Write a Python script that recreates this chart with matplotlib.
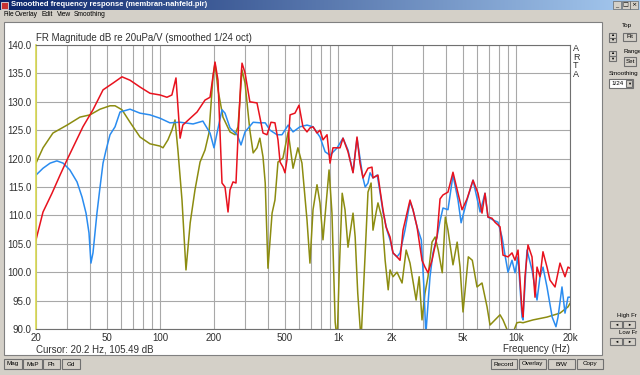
import numpy as np
import matplotlib
matplotlib.use('Agg')
import matplotlib.pyplot as plt
from matplotlib.patches import Rectangle

# --- data (Hz, dB) ---
red_f = [20, 21.9, 24.6, 27.3, 29.9, 36.7, 41.8, 47.6, 54.2, 60.8, 67.5, 76.8, 87.4, 99.6,
         108.8, 116, 122.3, 129, 133.6, 147, 160.6, 178, 190, 202.6, 210.6, 221.8, 230.6,
         239.8, 246, 255.8, 265.8, 272.8, 283.6, 287.4, 298.8, 318, 348.8, 362, 377, 397,
         418, 440, 457.6, 470, 488, 501, 514, 535, 570, 600.6, 632, 666, 692, 720, 758, 788,
         819, 863, 897, 932, 969, 1021, 1061, 1132, 1208, 1272, 1322, 1374, 1466, 1544,
         1564, 1668, 1713, 1780, 1850, 1950, 2026, 2134, 2219, 2306, 2525, 2624, 2764, 2948,
         3064, 3186, 3356, 3578, 3723, 3868, 4126, 4402, 4698, 4948, 5278, 5704, 6084, 6408,
         6660, 6924, 7292, 7580, 8089, 8408, 8970, 9448, 9820, 10210, 10750, 10890, 11174,
         11616, 12234, 12720, 13052, 13570, 14102, 14852, 15443, 16478, 17574, 18748, 19490,
         20000]
red_db = [105.7, 110.6, 113.9, 117.1, 119.8, 125.6, 128.6, 132.1, 133.3, 134.4, 133.8, 132.6,
          131.5, 131.2, 130.8, 131.2, 134.2, 123.6, 125.9, 127.1, 128.2, 130.3, 130.8, 137.0,
          133.8, 115.7, 115.0, 110.6, 114.5, 115.9, 115.7, 123.8, 134.4, 136.8, 135.1, 130.0,
          129.8, 127.3, 124.5, 124.2, 126.4, 126.3, 123.3, 119.4, 118.5, 117.5, 119.8, 127.7,
          128.0, 129.4, 125.6, 124.7, 125.4, 125.6, 124.5, 125.0, 123.3, 124.2, 119.2, 121.9,
          121.9, 121.9, 123.6, 121.2, 117.5, 123.8, 119.2, 116.6, 118.3, 118.5, 116.6, 117.1,
          114.5, 111.0, 108.0, 106.2, 103.4, 102.7, 102.1, 107.4, 112.7, 111.0, 108.0, 102.1,
          100.9, 99.9, 102.1, 106.2, 112.9, 113.6, 114.1, 117.6, 113.9, 111.0, 112.9, 116.2,
          113.9, 110.4, 113.9, 109.7, 109.5, 108.8, 108.0, 103.0, 102.7, 103.4, 102.1, 103.9,
          93.3, 92.1, 99.2, 104.8, 102.7, 95.6, 100.9, 99.2, 103.6, 100.9, 98.6, 97.4, 101.6,
          99.2, 100.9, 100.7]

blue_f = [20, 21.9, 24.0, 26.2, 28.4, 31.0, 34.0, 36.3, 38.2, 39.7, 40.7, 41.8, 44.0, 45.8,
          47.6, 49.5, 52.1, 55.6, 59.3, 67.5, 76.8, 87.4, 99.6, 113, 129, 152.6, 173.2, 190,
          200, 208, 221.8, 230.6, 246, 270, 283.6, 298.8, 332, 362, 388, 413, 452, 482, 522,
          556, 608, 666, 720, 788, 842, 897, 984, 1061, 1132, 1208, 1272, 1374, 1414, 1466,
          1506, 1564, 1652, 1713, 1780, 1874, 1950, 2026, 2134, 2219, 2366, 2525, 2624, 2764,
          2922, 3022, 3098, 3140, 3270, 3398, 3578, 3723, 3868, 4126, 4402, 4698, 4890, 5278,
          5704, 6252, 6660, 6924, 7380, 7880, 8300, 8628, 8970, 9448, 9820, 10210, 10750,
          10890, 11466, 12234, 13052, 13570, 14102, 14852, 15880, 16680, 17130, 18032, 18748,
          19490, 20000]
blue_db = [117.1, 118.3, 119.2, 119.6, 119.2, 118.0, 115.9, 113.2, 110.4, 106.9, 101.6, 103.4,
           110.4, 115.0, 119.2, 121.5, 124.2, 125.6, 128.2, 128.7, 128.0, 127.7, 127.1, 126.3,
           126.4, 126.1, 126.6, 124.5, 121.9, 124.5, 128.6, 128.0, 125.4, 124.2, 122.4, 124.7,
           126.4, 126.3, 126.3, 125.0, 124.2, 124.2, 125.9, 124.7, 125.6, 125.9, 125.6, 123.8,
           121.2, 120.6, 121.9, 123.6, 121.5, 117.6, 123.6, 116.6, 115.0, 115.7, 117.5, 116.6,
           117.1, 114.1, 110.6, 107.4, 105.7, 103.4, 102.7, 103.4, 107.4, 112.4, 111.0, 108.0,
           105.7, 97.4, 89.0, 91.6, 99.2, 103.4, 106.2, 109.0, 111.3, 111.0, 117.1, 112.7,
           108.7, 112.7, 116.2, 110.6, 113.9, 109.7, 109.2, 108.8, 106.2, 103.0, 100.0, 102.1,
           99.9, 102.7, 92.1, 91.6, 103.9, 100.4, 95.1, 99.2, 100.9, 97.4, 92.1, 90.4, 92.1,
           97.4, 92.8, 95.6, 95.6]

olive_f = [20, 21.9, 24.9, 29.9, 35.3, 40.2, 45.8, 52.1, 55.6, 60.8, 67.5, 76.8, 87.4, 99.6,
           103.4, 110.2, 116, 120.8, 125.4, 132.2, 139.2, 147, 156.4, 167, 178, 187.4, 197.4,
           202.6, 210.6, 224.6, 246, 262.6, 272.8, 287.4, 298.8, 318, 332, 348.8, 362, 377,
           388, 402, 424, 440, 457.6, 488, 522, 556, 592, 624, 666, 692, 720, 758, 788, 819,
           863, 886, 920, 959, 984, 1010, 1050, 1089, 1132, 1208, 1242, 1284, 1340, 1414, 1466,
           1526, 1564, 1630, 1668, 1758, 1830, 1904, 1950, 2026, 2134, 2278, 2402, 2525, 2732,
           2842, 2948, 3064, 3186, 3356, 3494, 3636, 3832, 3986, 4126, 4402, 4646, 4822, 5012,
           5368, 5652, 6006, 6408, 6840, 7107, 7580, 8089, 8408, 8970, 9564, 10060, 10476,
           10890, 12400, 14852, 17574, 19490, 20000]
olive_db = [119.2, 121.9, 124.5, 125.9, 127.3, 127.7, 128.7, 129.3, 129.3, 128.6, 126.4, 123.8,
            122.6, 122.2, 121.9, 123.3, 125.0, 126.8, 121.5, 112.7, 100.4, 108.7, 114.5, 119.4,
            121.5, 124.5, 134.4, 136.8, 132.1, 127.3, 124.7, 124.2, 125.6, 135.6, 133.3, 125.0,
            121.0, 121.9, 123.6, 120.3, 115.7, 100.7, 110.4, 112.7, 119.4, 120.1, 124.7, 118.3,
            121.9, 119.2, 109.2, 101.6, 111.0, 115.4, 112.2, 105.7, 113.9, 118.0, 110.4, 91.2,
            88.0, 99.9, 113.9, 111.0, 104.4, 110.4, 106.2, 96.3, 88.0, 103.4, 114.1, 115.7,
            107.4, 110.6, 112.2, 109.5, 102.1, 96.9, 100.4, 99.2, 100.0, 98.1, 103.9, 101.6,
            95.1, 99.2, 91.6, 96.3, 99.2, 105.3, 106.2, 103.9, 99.9, 109.7, 107.4, 101.3, 105.3,
            100.9, 93.0, 102.7, 102.1, 97.4, 98.1, 93.9, 90.7, 91.6, 92.5, 91.6, 89.5, 89.3,
            91.1, 91.2, 91.1, 91.6, 92.1, 92.8, 93.9, 94.5]

tick_f = [20, 50, 100, 200, 500, 1000, 2000, 5000, 10000, 20000]
tick_lbl = ['20', '50', '100', '200', '500', '1k', '2k', '5k', '10k', '20k']
db_ticks = [90, 95, 100, 105, 110, 115, 120, 125, 130, 135, 140]

W, H = 640, 375
GRAY = '#d4d0c8'
FONT = 'Liberation Sans'


def fx(x):
    return x / W


def fy(y):
    return 1 - y / H


def button(fig, x0, y0, x1, y1, label, size=5.0):
    fig.add_artist(Rectangle((fx(x0), fy(y1)), (x1 - x0) / W, (y1 - y0) / H,
                             transform=fig.transFigure, fc=GRAY, ec='#707070', lw=0.8))
    fig.text(fx((x0 + x1) / 2), fy((y0 + y1) / 2), label, fontsize=size, family=FONT,
             ha='center', va='center', color='black')


fig = plt.figure(figsize=(6.4, 3.75), dpi=100, facecolor=GRAY)

# white plot panel
fig.add_artist(Rectangle((fx(4), fy(355)), 598 / W, 333 / H, transform=fig.transFigure,
                         fc='white', ec='#808080', lw=0.8, zorder=-1))

# title bar
tb = fig.add_axes([0, fy(10), 1, 10 / H])
grad = np.linspace(0, 1, 256)[None, :]
cmap = matplotlib.colors.LinearSegmentedColormap.from_list('tb', ['#0a246a', '#a6caf0'])
tb.imshow(grad, aspect='auto', cmap=cmap, extent=[0, 1, 0, 1])
tb.set_axis_off()
tb.text(11 / W, 0.5, 'Smoothed frequency response (membran-nahfeld.pir)', color='white',
        fontsize=5.5, fontweight='bold', family=FONT, va='center')
tb.add_patch(Rectangle((1 / W, 0.15), 7 / W, 0.7, fc='#c83232', ec='white', lw=0.5))
for i, s in enumerate(['_', '□', '×']):
    tb.add_patch(Rectangle(((613 + 8.5 * i) / W, 0.12), 8 / W, 0.76, fc=GRAY, ec='#505050', lw=0.4))
    tb.text((617 + 8.5 * i) / W, 0.5, s, fontsize=4.5, ha='center', va='center')

# menu bar
for x, s in [(3, 'File'), (15, 'Overlay'), (42, 'Edit'), (57, 'View'), (74, 'Smoothing')]:
    fig.text(fx(x), fy(14.5), s, fontsize=4.8, family=FONT, va='center')

# main plot
ax = fig.add_axes([fx(36), fy(329), (570 - 36) / W, (329 - 45) / H])
ax.plot(olive_f, olive_db, color='#8c8c10', lw=1.1)
ax.plot(blue_f, blue_db, color='#2a8cf0', lw=1.1)
ax.plot(red_f, red_db, color='#e8121e', lw=1.1)
ax.set_xscale('log')
ax.set_xlim(20, 20000)
ax.set_ylim(90, 140)
minor = [m * 10 ** d for d in range(1, 5) for m in range(2, 10) if 20 <= m * 10 ** d <= 20000]
ax.set_xticks(minor, minor=True)
ax.set_xticks(tick_f)
ax.set_xticklabels(tick_lbl)
ax.xaxis.set_minor_formatter(matplotlib.ticker.NullFormatter())
ax.set_yticks(db_ticks)
ax.set_yticklabels(['%.1f' % v for v in db_ticks])
ax.tick_params(which='both', length=0, labelsize=7, colors='#303030', pad=3)
for lb in ax.get_xticklabels() + ax.get_yticklabels():
    lb.set_family(FONT)
ax.grid(which='both', color='#a8a8a8', lw=0.8)
ax.set_axisbelow(True)
for side in ['top', 'right', 'bottom']:
    ax.spines[side].set_color('#707070')
ax.spines['left'].set_color('#d8d850')
ax.spines['left'].set_linewidth(1.2)

fig.text(fx(36), fy(38), 'FR Magnitude dB re 20uPa/V (smoothed 1/24 oct)', fontsize=7,
         family=FONT, va='center', color='#303030')
fig.text(fx(573), fy(44), 'A\nR\nT\nA', fontsize=6.5, family=FONT, va='top', linespacing=0.95,
         color='#303030')
fig.text(fx(36), fy(349), 'Cursor: 20.2 Hz, 105.49 dB', fontsize=7, family=FONT, va='center',
         color='#303030')
fig.text(fx(570), fy(349), 'Frequency (Hz)', fontsize=7, family=FONT, va='center', ha='right',
         color='#303030')

# right panel controls
button(fig, 609, 33, 616, 37.5, '▲', 3)
button(fig, 609, 37.5, 616, 42, '▼', 3)
fig.text(fx(622), fy(26), 'Top', fontsize=4.5, family=FONT, va='center')
button(fig, 623, 33, 636, 41, 'Fit', 4.5)
button(fig, 609, 51, 616, 56, '▲', 3)
button(fig, 609, 56, 616, 61, '▼', 3)
fig.text(fx(623), fy(51), 'Range', fontsize=4.5, family=FONT, va='center')
button(fig, 624, 57, 636, 66, 'Set', 4.5)
fig.text(fx(609), fy(73), 'Smoothing', fontsize=4.5, family=FONT, va='center')
fig.add_artist(Rectangle((fx(609), fy(88)), 24 / W, 9 / H, transform=fig.transFigure,
                         fc='white', ec='#707070', lw=0.8))
fig.text(fx(611), fy(83.5), '1/24', fontsize=4.5, family=FONT, va='center')
button(fig, 626, 80, 632, 87, '▼', 3)
fig.text(fx(617), fy(315), 'High Fr', fontsize=4.3, family=FONT, va='center')
button(fig, 610, 321, 622, 328, '◄', 3)
button(fig, 623, 321, 635, 328, '►', 3)
fig.text(fx(619), fy(333), 'Low Fr', fontsize=4.3, family=FONT, va='center')
button(fig, 610, 338, 622, 345, '◄', 3)
button(fig, 623, 338, 635, 345, '►', 3)

# bottom buttons
for x0, x1, s in [(4, 22, 'Mag'), (23, 42, 'MsP'), (43, 60, 'Ph'), (62, 80, 'Gd')]:
    button(fig, x0, 359, x1, 369, s, 4.5)
for x0, x1, s in [(491, 517, 'Record'), (519, 546, 'Overlay'), (548, 575, 'B/W'),
                  (577, 603, 'Copy')]:
    button(fig, x0, 359, x1, 369, s, 4.5)

fig.savefig('out.png', dpi=100, facecolor=GRAY)
